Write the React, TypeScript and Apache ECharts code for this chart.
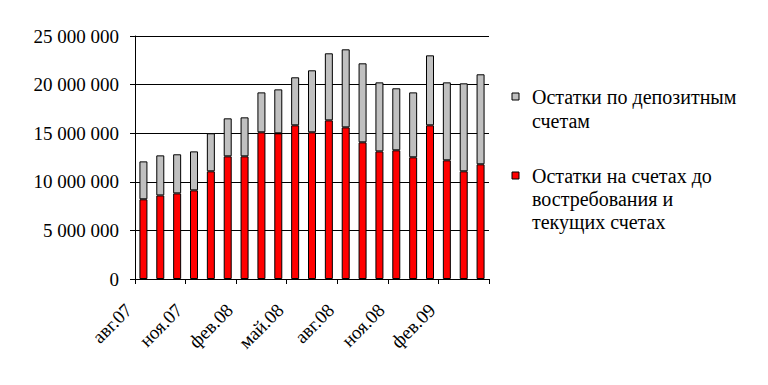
import React, { useEffect, useRef } from "react";
import * as echarts from "echarts";

const months = [
  "авг.07", "сен.07", "окт.07", "ноя.07", "дек.07", "янв.08", "фев.08",
  "мар.08", "апр.08", "май.08", "июн.08", "июл.08", "авг.08", "сен.08",
  "окт.08", "ноя.08", "дек.08", "янв.09", "фев.09", "мар.09", "апр.09",
];

// Остатки на счетах до востребования и текущих счетах
const demandValues = [
  8200000, 8600000, 8810000, 9120000, 11080000, 12620000, 12620000,
  15090000, 14990000, 15810000, 15090000, 16320000, 15600000, 14060000,
  13130000, 13240000, 12520000, 15810000, 12210000, 11080000, 11800000,
];

// Итого (для вычисления депозитов)
const totalValues = [
  12100000, 12720000, 12830000, 13130000, 14990000, 16530000, 16630000,
  19200000, 19510000, 20750000, 21470000, 23220000, 23630000, 22190000,
  20230000, 19620000, 19200000, 23010000, 20230000, 20130000, 21060000,
];

const depositValues = totalValues.map((t, i) => t - demandValues[i]);

const seriesNames = [
  "Остатки по депозитным счетам",
  "Остатки на счетах до востребования и текущих счетах",
];

const legendLines = [
  "Остатки по депозитным\nсчетам",
  "Остатки на счетах до\nвостребования и\nтекущих счетах",
];

const FONT = "Times New Roman";

function fmt(v: number): string {
  return String(v).replace(/\B(?=(\d{3})+(?!\d))/g, " ");
}

export default function App() {
  const ref = useRef<HTMLDivElement>(null);
  useEffect(() => {
    document.body.style.margin = "0";
    if (!ref.current) return;
    const chart = echarts.init(ref.current, undefined, { renderer: "svg" });
    chart.setOption({
      animation: false,
      backgroundColor: "#ffffff",
      textStyle: { fontFamily: FONT },
      grid: { left: 135, right: 279, top: 36, bottom: 106, containLabel: false },
      xAxis: {
        type: "category",
        data: months,
        boundaryGap: true,
        axisLine: { show: true, lineStyle: { color: "#000", width: 1 } },
        axisTick: { show: true, interval: 2, length: 5, inside: false, lineStyle: { color: "#000" } },
        axisLabel: {
          interval: 2,
          rotate: 45,
          color: "#000",
          fontFamily: FONT,
          fontSize: 19,
          margin: 13,
          padding: [0, 21, 0, 0],
        },
        splitLine: { show: false },
      },
      yAxis: {
        type: "value",
        min: 0,
        max: 25000000,
        interval: 5000000,
        axisLine: { show: true, lineStyle: { color: "#000", width: 1 } },
        axisTick: { show: true, length: 5, lineStyle: { color: "#000" } },
        axisLabel: {
          color: "#000",
          fontFamily: FONT,
          fontSize: 19,
          margin: 16,
          formatter: (v: number) => fmt(v),
        },
        splitLine: { show: true, lineStyle: { color: "#000", width: 1 } },
      },
      series: [
        {
          name: seriesNames[1],
          type: "bar",
          stack: "total",
          data: demandValues,
          barWidth: 8,
          itemStyle: { color: "#ff0000", borderColor: "#000", borderWidth: 1 },
        },
        {
          name: seriesNames[0],
          type: "bar",
          stack: "total",
          data: depositValues,
          barWidth: 8,
          itemStyle: { color: "#c0c0c0", borderColor: "#000", borderWidth: 1 },
        },
      ],
      graphic: [
        {
          type: "rect",
          shape: { x: 512, y: 93, width: 7, height: 7 },
          style: { fill: "#c0c0c0", stroke: "#000", lineWidth: 1 },
        },
        {
          type: "text",
          x: 532,
          y: 85,
          style: {
            text: legendLines[0],
            fill: "#000",
            fontFamily: FONT,
            fontSize: 20,
            lineHeight: 24,
          },
        },
        {
          type: "rect",
          shape: { x: 512, y: 172, width: 7, height: 7 },
          style: { fill: "#ff0000", stroke: "#000", lineWidth: 1 },
        },
        {
          type: "text",
          x: 532,
          y: 164,
          style: {
            text: legendLines[1],
            fill: "#000",
            fontFamily: FONT,
            fontSize: 20,
            lineHeight: 23,
          },
        },
      ],
    });
    return () => chart.dispose();
  }, []);
  return <div ref={ref} style={{ width: 768, height: 385 }} />;
}
